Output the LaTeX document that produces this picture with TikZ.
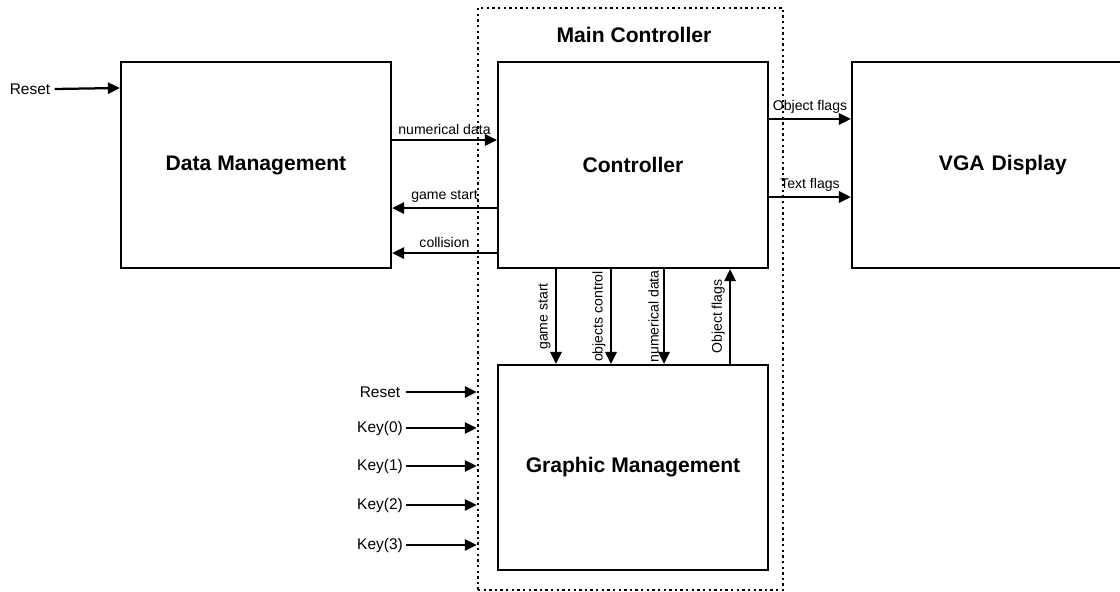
\documentclass[tikz,border=0pt]{standalone}
\usepackage{fontspec}
\setmainfont{Liberation Sans}
\usepackage{tikz}
\usetikzlibrary{positioning, arrows.meta, calc}

\begin{document}
\begin{tikzpicture}[x=0.025cm, y=-0.025cm, >={Triangle[length=3mm, width=2.8mm]},
  block/.style={draw, line width=1.5pt, rectangle, minimum width=6.75cm, minimum height=5.15cm, font=\fontsize{15}{18}\selectfont\bfseries},
  sig/.style={->, line width=1.6pt},
  lbl/.style={font=\fontsize{10}{12}\selectfont, inner sep=3pt},
  inp/.style={font=\fontsize{11}{13}\selectfont, minimum width=1.3cm, inner sep=1pt}]
  \useasboundingbox (0,0) rectangle (1120,592);
  % main controller frame
  \node[draw, line width=1.7pt, dash pattern=on 1.7pt off 2.3pt, minimum width=7.625cm, minimum height=14.55cm] (mainctrl) at (630.5,299) {};
  \node[font=\fontsize{15}{18}\selectfont\bfseries] (mctitle) at (634,35) {Main Controller};
  % blocks
  \node[block] (dm) at (256,165) {Data Management};
  \node[block] (ctrl) at (633,165) {Controller};
  \node[block, minimum width=7.5cm, text width=6.75cm, align=left] (vga) at (1002,165) {\hspace{1.8cm}VGA Display};
  \node[block, minimum height=5.125cm] (gm) at (633,467.5) {Graphic Management};
  % reset of data management
  \node[inp, minimum width=0pt, inner sep=3pt] (rst) at (30,89) {Reset};
  \path[sig]
    (rst.east) edge ([yshift=1.925cm]dm.west);
  % data management <-> controller
  \path[sig]
    ([yshift=0.625cm]dm.east) edge node[lbl, above] {numerical data} ([yshift=0.625cm]ctrl.west)
    ([yshift=-1.075cm]ctrl.west) edge node[lbl, above] {game start} ([yshift=-1.075cm]dm.east)
    ([yshift=-2.2cm]ctrl.west) edge node[lbl, above] {collision} ([yshift=-2.2cm]dm.east);
  % controller -> vga
  \path[sig]
    ([yshift=1.15cm]ctrl.east) edge node[lbl, above] {Object flags} ([yshift=1.15cm]vga.west)
    ([yshift=-0.8cm]ctrl.east) edge node[lbl, above] {Text flags} ([yshift=-0.8cm]vga.west);
  % controller <-> graphic management
  \path[sig]
    ([xshift=-1.925cm]ctrl.south) edge node[lbl, midway, rotate=90, anchor=south] {game start} ([xshift=-1.925cm]gm.north)
    ([xshift=-0.55cm]ctrl.south) edge node[lbl, midway, rotate=90, anchor=south] {objects control} ([xshift=-0.55cm]gm.north)
    ([xshift=0.775cm]ctrl.south) edge node[lbl, midway, rotate=90, anchor=south] {numerical data} ([xshift=0.775cm]gm.north)
    ([xshift=2.425cm]gm.north) edge node[lbl, midway, rotate=90, anchor=south] {Object flags} ([xshift=2.425cm]ctrl.south);
  % inputs of graphic management
  \node[inp] (grst) at (380,392) {Reset};
  \node[inp] (key0) at (380,428) {Key(0)};
  \node[inp] (key1) at (380,466) {Key(1)};
  \node[inp] (key2) at (380,505) {Key(2)};
  \node[inp] (key3) at (380,545) {Key(3)};
  \path[sig]
    (grst.east) edge (grst.east -| mainctrl.west)
    (key0.east) edge (key0.east -| mainctrl.west)
    (key1.east) edge (key1.east -| mainctrl.west)
    (key2.east) edge (key2.east -| mainctrl.west)
    (key3.east) edge (key3.east -| mainctrl.west);
\end{tikzpicture}
\end{document}
